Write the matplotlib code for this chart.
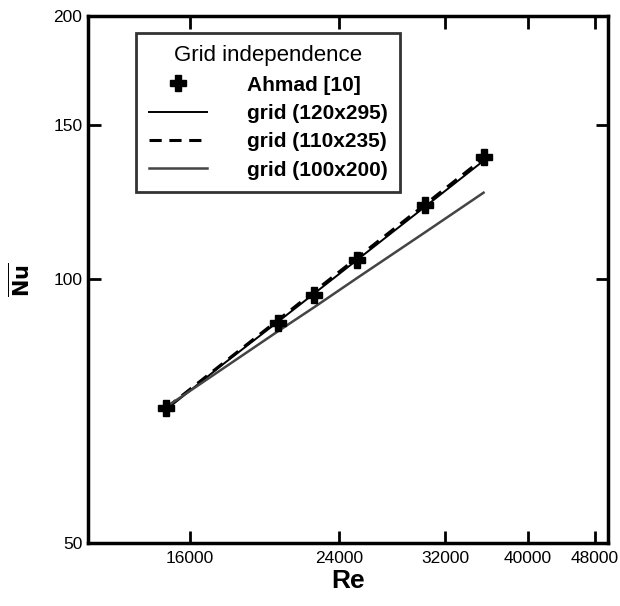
import numpy as np
import matplotlib.pyplot as plt
from matplotlib.ticker import FixedLocator, NullLocator, FixedFormatter

plt.rcParams['font.family'] = ['Liberation Sans', 'DejaVu Sans']

# data
re_ahmad = [15000, 20300, 22400, 25200, 30300, 35500]
nu_ahmad = [71.3, 89.2, 96.0, 105.3, 121.7, 138.0]

re_grid = [15000, 17500, 20300, 22400, 25200, 30300, 35500]
nu_120x295 = [71.0, 80.0, 89.4, 96.3, 105.3, 121.1, 136.6]
nu_110x235 = [71.3, 80.2, 89.8, 96.8, 105.9, 121.8, 137.5]
nu_100x200 = [71.5, 79.1, 87.2, 92.9, 100.4, 113.2, 125.6]

xticks = [16000, 24000, 32000, 40000, 48000]
yticks = [50, 100, 150, 200]

fig = plt.figure(figsize=(6.2, 6.06), dpi=100)
ax = fig.add_axes([0.142, 0.104, 0.839, 0.870])

ax.plot(re_grid, nu_120x295, color='black', lw=1.4, label='grid (120x295)')
ax.plot(re_grid, nu_110x235, color='black', lw=2.2, ls=(0, (4, 2.5)), label='grid (110x235)')
ax.plot(re_grid, nu_100x200, color='#444444', lw=1.8, label='grid (100x200)')
ax.plot(re_ahmad, nu_ahmad, ls='none', marker='P', ms=11, color='black', label='Ahmad [10]')

ax.set_xscale('log')
ax.set_yscale('log')
ax.set_xlim(12130, 49800)
ax.set_ylim(50, 200)

ax.xaxis.set_major_locator(FixedLocator(xticks))
ax.xaxis.set_major_formatter(FixedFormatter([str(v) for v in xticks]))
ax.xaxis.set_minor_locator(NullLocator())
ax.yaxis.set_major_locator(FixedLocator(yticks))
ax.yaxis.set_major_formatter(FixedFormatter([str(v) for v in yticks]))
ax.yaxis.set_minor_locator(NullLocator())

ax.tick_params(which='major', direction='in', length=9, width=2,
               top=True, right=True, labelsize=12.5, pad=6)
ax.tick_params(axis='y', pad=4)
for s in ax.spines.values():
    s.set_linewidth(2.5)

ax.set_xlabel('Re', fontsize=19, fontweight='bold', labelpad=2)
ax.set_ylabel(r'$\overline{\mathbf{Nu}}$', fontsize=15, labelpad=14)

h, l = ax.get_legend_handles_labels()
order = [3, 0, 1, 2]
leg = ax.legend([h[i] for i in order], [l[i] for i in order],
                title='Grid independence', title_fontsize=16,
                prop={'size': 15, 'weight': 'bold'},
                loc='upper left', bbox_to_anchor=(0.093, 0.968),
                frameon=True, fancybox=False, edgecolor='black',
                handlelength=2.8, handletextpad=1.9, labelspacing=0.45,
                borderpad=0.6, borderaxespad=0)
leg.get_frame().set_linewidth(2)
leg._legend_box.align = 'center'

fig.savefig('out.png', dpi=100)
